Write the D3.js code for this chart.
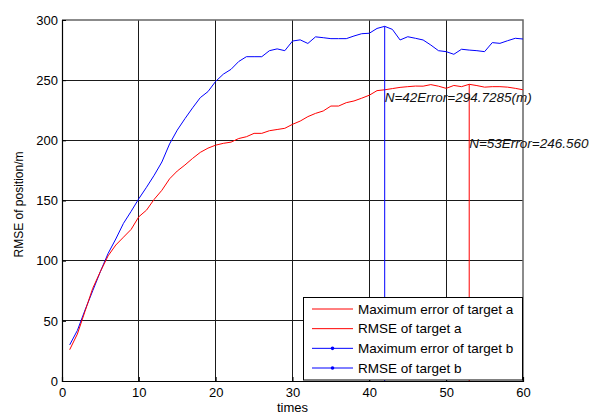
<!DOCTYPE html>
<html>
<head>
<meta charset="utf-8">
<script src="https://cdn.jsdelivr.net/npm/d3@7"></script>
<style>
  html, body { margin: 0; padding: 0; background: #fff; }
  svg { display: block; font-family: "Liberation Sans", Arial, sans-serif; }
</style>
</head>
<body>
<svg id="chart" width="589" height="414"></svg>
<script>
// Sample index (times)
const times = [1,2,3,4,5,6,7,8,9,10,11,12,13,14,15,16,17,18,19,20,
  21,22,23,24,25,26,27,28,29,30,31,32,33,34,35,36,37,38,39,40,
  41,42,43,44,45,46,47,48,49,50,51,52,53,54,55,56,57,58,59,60];

// Error of target a (red)
const errorA = [26,39,58,77,91,104,113,119.5,126,136.5,142,151,158.5,168,174.5,179.5,185,190,193.5,196,
  197.5,198.5,201.5,203,205.8,205.8,208,209,210,213.3,216,219.7,222.4,224.4,228.5,228.5,231.3,232.7,235,237.5,
  241.3,242,243,244,244.6,245.1,245,246.3,245,243.2,245.6,244.6,246.56,245.5,244.2,244.6,244.6,244.2,243.2,242];

// Error of target b (blue)
const errorB = [30,42,59,75,91,106,118,131,141,151.5,161,171,182,197,208.5,218,227,235.5,240.5,249,
  255,259,265.5,269.5,269.5,269.5,274.5,276,274.5,282.5,283.5,280.5,286,285.3,284.5,284.5,284.5,286.7,288.6,289,
  293,294.7285,292.2,283.4,286.1,284.8,283.4,279.2,274.5,273.7,271.5,275.7,275,274.5,273.7,281.2,280.6,282.8,284.8,284.2];

const xTicks = [0,10,20,30,40,50,60];
const yTicks = [0,50,100,150,200,250,300];

const legendLabels = [
  "Maximum error of target a",
  "RMSE of target a",
  "Maximum error of target b",
  "RMSE of target b"
];
const legendColors = ["#ff0000", "#ff0000", "#0000ff", "#0000ff"];
const legendMarkers = [false, false, true, true];

const svg = d3.select("#chart");
const plot = { left: 62, right: 523, top: 20, bottom: 381 };

const x = d3.scaleLinear().domain([0, 60]).range([plot.left, plot.right]);
const y = d3.scaleLinear().domain([0, 300]).range([plot.bottom, plot.top]);

// Grid lines
const grid = svg.append("g").attr("shape-rendering", "crispEdges");
grid.selectAll("line.gx").data(xTicks.slice(1, -1)).join("line")
  .attr("x1", d => x(d)).attr("x2", d => x(d))
  .attr("y1", plot.top).attr("y2", plot.bottom)
  .attr("stroke", "#1a1a1a").attr("stroke-width", 1);
grid.selectAll("line.gy").data(yTicks.slice(1, -1)).join("line")
  .attr("x1", plot.left).attr("x2", plot.right)
  .attr("y1", d => y(d)).attr("y2", d => y(d))
  .attr("stroke", "#1a1a1a").attr("stroke-width", 1);

// Box: top and right edges
svg.append("path")
  .attr("d", `M${plot.left},${plot.top}H${plot.right}V${plot.bottom}`)
  .attr("fill", "none").attr("stroke", "#666").attr("stroke-width", 1.5);

// Axes
const xAxis = d3.axisBottom(x).tickValues(xTicks).tickSize(-4).tickPadding(7);
const yAxis = d3.axisLeft(y).tickValues(yTicks).tickSize(-4).tickPadding(4);

const gx = svg.append("g").attr("transform", `translate(0,${plot.bottom})`).call(xAxis);
const gy = svg.append("g").attr("transform", `translate(${plot.left},0)`).call(yAxis);
[gx, gy].forEach(g => {
  g.select(".domain").attr("stroke", "#000").attr("stroke-width", 1.2);
  g.selectAll(".tick line").attr("stroke", "#000");
  g.selectAll(".tick text").attr("fill", "#000")
    .style("font-size", "13px").style("font-family", "'Liberation Sans', Arial, sans-serif");
});

// Axis titles
svg.append("text")
  .attr("x", x(30)).attr("y", 412)
  .attr("text-anchor", "middle")
  .style("font-size", "13px")
  .text("times");
svg.append("text")
  .attr("transform", `translate(23,${(plot.top + plot.bottom) / 2 + 4}) rotate(-90)`)
  .attr("text-anchor", "middle")
  .style("font-size", "12px")
  .text("RMSE of position/m");

// Curves
const line = d3.line().x(d => x(d[0])).y(d => y(d[1]));
const seriesA = times.map((t, i) => [t, errorA[i]]);
const seriesB = times.map((t, i) => [t, errorB[i]]);

svg.append("path").datum(seriesB).attr("d", line)
  .attr("fill", "none").attr("stroke", "#0000ff").attr("stroke-width", 1);
svg.append("path").datum(seriesA).attr("d", line)
  .attr("fill", "none").attr("stroke", "#ff0000").attr("stroke-width", 1);

// Peak markers: vertical lines and labels
const peaks = [
  { series: errorB, color: "#0000ff" },
  { series: errorA, color: "#ff0000" }
].map(p => {
  const i = d3.maxIndex(p.series);
  return { n: times[i], v: p.series[i], color: p.color };
});

svg.selectAll("line.peak").data(peaks).join("line")
  .attr("x1", d => x(d.n)).attr("x2", d => x(d.n))
  .attr("y1", y(0)).attr("y2", d => y(d.v))
  .attr("stroke", d => d.color).attr("stroke-width", 1);

svg.selectAll("text.peak").data(peaks).join("text")
  .attr("x", d => x(d.n))
  .attr("y", d => y(d.v * 0.8))
  .attr("dy", "0.35em")
  .style("font-size", "13.5px")
  .style("font-style", "italic")
  .attr("fill", "#111")
  .text(d => `N=${d.n}Error=${d.v.toFixed(4)}(m)`);

// Legend
const lg = svg.append("g");
lg.append("rect")
  .attr("x", 303.5).attr("y", 297.5).attr("width", 219).attr("height", 82.5)
  .attr("fill", "#fff").attr("stroke", "#000").attr("stroke-width", 1);
const rowY = d3.scalePoint().domain(d3.range(legendLabels.length)).range([309, 368]);
legendLabels.forEach((label, i) => {
  const ry = rowY(i);
  lg.append("line")
    .attr("x1", 312).attr("x2", 353).attr("y1", ry).attr("y2", ry)
    .attr("stroke", legendColors[i]).attr("stroke-width", 1);
  if (legendMarkers[i]) {
    lg.append("circle").attr("cx", 332.5).attr("cy", ry).attr("r", 1.8)
      .attr("fill", legendColors[i]);
  }
  lg.append("text")
    .attr("x", 358).attr("y", ry).attr("dy", "0.35em")
    .style("font-size", "13.5px")
    .attr("fill", "#000")
    .text(label);
});
</script>
</body>
</html>
